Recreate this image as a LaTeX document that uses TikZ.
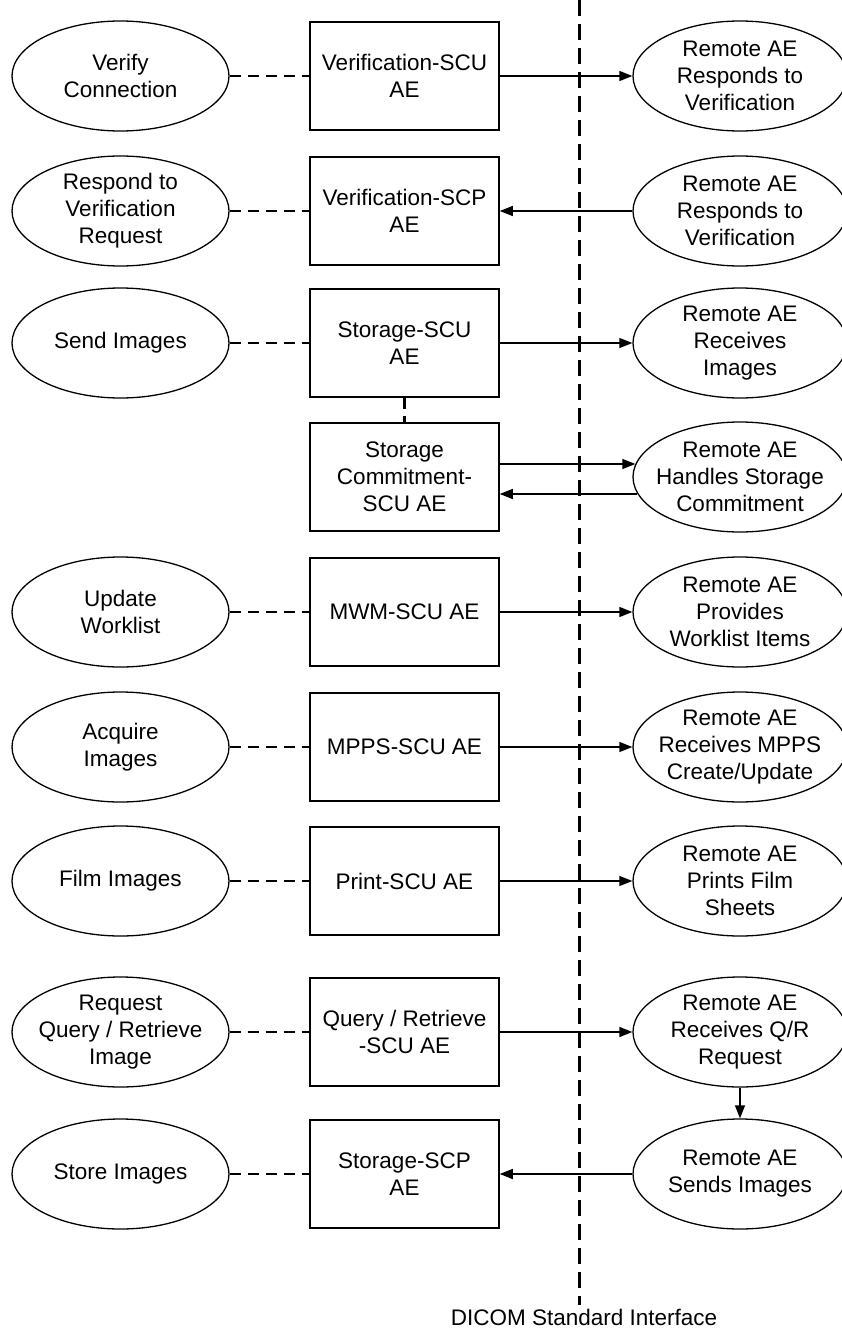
\documentclass[tikz,border=0pt]{standalone}
\usepackage{fontspec}
\setmainfont{Liberation Sans}
\usetikzlibrary{arrows.meta,shapes.geometric}
\begin{document}
\begin{tikzpicture}[x=1pt,y=-1pt,
  font=\fontsize{22.5}{27}\selectfont,
  actor/.style={ellipse, draw, line width=1.3pt, minimum width=217pt, minimum height=110pt, inner xsep=-40pt, inner ysep=0pt, align=center},
  remote/.style={ellipse, draw, line width=1.3pt, minimum width=214pt, minimum height=110pt, inner xsep=-40pt, inner ysep=0pt, align=center},
  aebox/.style={rectangle, draw, line width=1.5pt, minimum width=189pt, minimum height=108pt, inner sep=0pt, align=center},
  link/.style={line width=2.4pt, dash pattern=on 11pt off 7pt},
  msg/.style={line width=1.4pt, -{Triangle[length=13pt,width=10pt]}},
  iface/.style={line width=3pt, dash pattern=on 16pt off 8pt}]
\useasboundingbox (0,0) rectangle (841,1330);

% interface line
\coordinate (iftop) at (579,0);
\coordinate (ifbot) at (579,1305);
\draw[iface] (iftop) -- (ifbot);
\node (lbl) at (584,1317) {DICOM Standard Interface};

% row 1
\node[actor] (l1) at (120.5,76) {Verify\\Connection};
\node[aebox] (b1) at (404.5,76) {Verification-SCU\\AE};
\node[remote] (r1) at (740,76) {Remote AE\\Responds to\\Verification};
\draw[link] (l1) -- (b1);
\draw[msg] (b1) -- (r1);

% row 2
\node[actor] (l2) at (120.5,211) {Respond to\\Verification\\Request};
\node[aebox] (b2) at (404.5,211) {Verification-SCP\\AE};
\node[remote] (r2) at (740,211) {Remote AE\\Responds to\\Verification};
\draw[link] (l2) -- (b2);
\draw[msg] (r2) -- (b2);

% row 3
\node[actor] (l3) at (120.5,343) {Send Images};
\node[aebox] (b3) at (404.5,343) {Storage-SCU\\AE};
\node[remote] (r3) at (740,343) {Remote AE\\Receives\\Images};
\draw[link] (l3) -- (b3);
\draw[msg] (b3) -- (r3);

% row 4
\node[aebox] (b4) at (404.5,477) {Storage\\Commitment-\\SCU AE};
\node[remote] (r4) at (740,477) {Remote AE\\Handles Storage\\Commitment};
\draw[link] (b3) -- (b4);
\draw[msg] ([yshift=13pt]b4.east) -- ([yshift=13pt,xshift=3pt]b4.east -| r4.west);
\draw[msg] ([yshift=-17pt,xshift=5pt]b4.east -| r4.west) -- ([yshift=-17pt]b4.east);

% row 5
\node[actor] (l5) at (120.5,612) {Update\\Worklist};
\node[aebox] (b5) at (404.5,612) {MWM-SCU AE};
\node[remote] (r5) at (740,612) {Remote AE\\Provides\\Worklist Items};
\draw[link] (l5) -- (b5);
\draw[msg] (b5) -- (r5);

% row 6
\node[actor] (l6) at (120.5,747) {Acquire\\Images};
\node[aebox] (b6) at (404.5,747) {MPPS-SCU AE};
\node[remote] (r6) at (740,747) {Remote AE\\Receives MPPS\\Create/Update};
\draw[link] (l6) -- (b6);
\draw[msg] (b6) -- (r6);

% row 7
\node[actor] (l7) at (120.5,881) {Film Images};
\node[aebox] (b7) at (404.5,881) {Print-SCU AE};
\node[remote] (r7) at (740,881) {Remote AE\\Prints Film\\Sheets};
\draw[link] (l7) -- (b7);
\draw[msg] (b7) -- (r7);

% row 8
\node[actor] (l8) at (120.5,1032) {Request\\Query / Retrieve\\Image};
\node[aebox] (b8) at (404.5,1032) {Query / Retrieve\\-SCU AE};
\node[remote] (r8) at (740,1032) {Remote AE\\Receives Q/R\\Request};
\draw[link] (l8) -- (b8);
\draw[msg] (b8) -- (r8);

% row 9
\node[actor] (l9) at (120.5,1174) {Store Images};
\node[aebox] (b9) at (404.5,1174) {Storage-SCP\\AE};
\node[remote] (r9) at (740,1174) {Remote AE\\Sends Images};
\draw[link] (l9) -- (b9);
\draw[msg] (r9) -- (b9);
\draw[msg] (r8) -- (r9);
\end{tikzpicture}
\end{document}
